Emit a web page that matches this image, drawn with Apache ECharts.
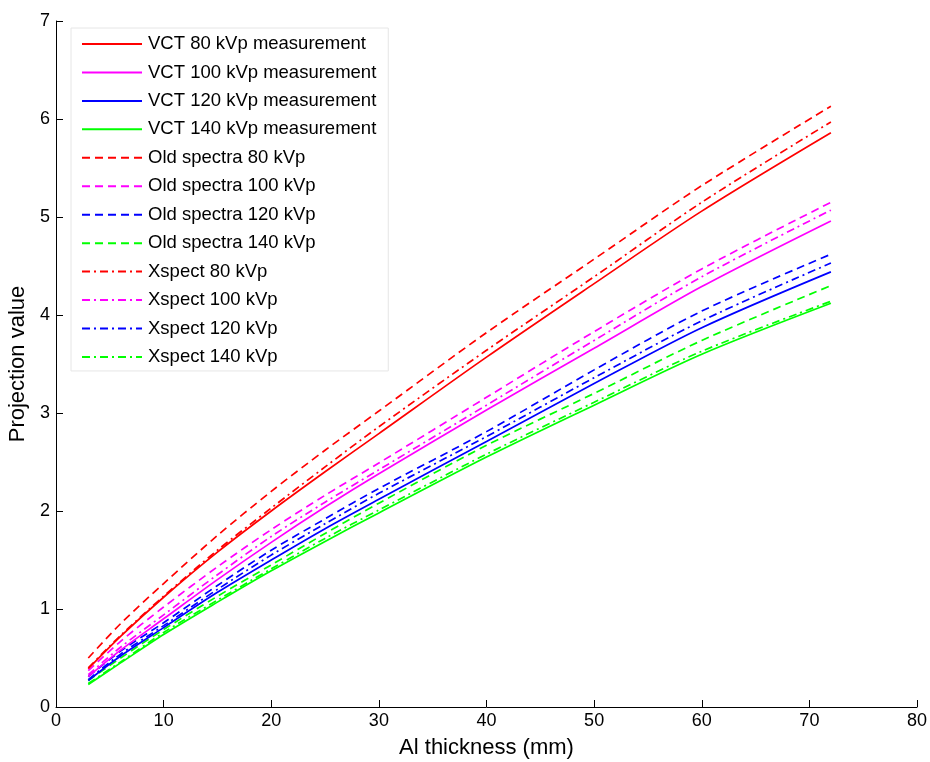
<!DOCTYPE html>
<html>
<head>
<meta charset="utf-8">
<script src="https://cdn.jsdelivr.net/npm/echarts@6/dist/echarts.min.js"></script>
<style>html,body{margin:0;padding:0;background:#fff}#c{width:930px;height:762px}</style>
</head>
<body>
<div id="c"></div>
<script>
// Al thickness (mm) sample positions
const thickness = [3, 6, 10, 15, 20, 25, 30, 40, 50, 60, 72];

// VCT measurements
const vct80  = [0.39, 0.72, 1.12, 1.58, 2.00, 2.40, 2.79, 3.57, 4.32, 5.06, 5.86];
const vct100 = [0.31, 0.58, 0.90, 1.30, 1.68, 2.04, 2.38, 3.03, 3.66, 4.29, 4.96];
const vct120 = [0.27, 0.52, 0.81, 1.17, 1.50, 1.82, 2.12, 2.71, 3.30, 3.87, 4.44];
const vct140 = [0.23, 0.45, 0.74, 1.07, 1.39, 1.69, 1.98, 2.55, 3.08, 3.60, 4.12];

// Old spectra
const old80  = [0.50, 0.85, 1.26, 1.75, 2.20, 2.62, 3.02, 3.82, 4.57, 5.32, 6.13];
const old100 = [0.37, 0.67, 1.02, 1.43, 1.81, 2.16, 2.49, 3.16, 3.83, 4.47, 5.15];
const old120 = [0.31, 0.57, 0.86, 1.24, 1.60, 1.92, 2.23, 2.81, 3.44, 4.04, 4.62];
const old140 = [0.27, 0.50, 0.79, 1.13, 1.45, 1.77, 2.08, 2.67, 3.20, 3.74, 4.30];

// Xspect
const xs80  = [0.40, 0.73, 1.13, 1.60, 2.03, 2.45, 2.86, 3.64, 4.39, 5.15, 5.97];
const xs100 = [0.33, 0.61, 0.94, 1.35, 1.74, 2.09, 2.42, 3.08, 3.74, 4.39, 5.07];
const xs120 = [0.28, 0.54, 0.83, 1.20, 1.55, 1.87, 2.18, 2.76, 3.36, 3.94, 4.53];
const xs140 = [0.24, 0.46, 0.76, 1.09, 1.41, 1.72, 2.01, 2.58, 3.11, 3.63, 4.14];

const names = [
  'VCT 80 kVp measurement','VCT 100 kVp measurement','VCT 120 kVp measurement','VCT 140 kVp measurement',
  'Old spectra 80 kVp','Old spectra 100 kVp','Old spectra 120 kVp','Old spectra 140 kVp',
  'Xspect 80 kVp','Xspect 100 kVp','Xspect 120 kVp','Xspect 140 kVp'
];
const values = [vct80, vct100, vct120, vct140, old80, old100, old120, old140, xs80, xs100, xs120, xs140];
const colors = ['#ff0000', '#ff00ff', '#0000ff', '#00ff00'];
const dashTypes = ['solid', [8, 5], [8, 4, 2, 4]];

const series = values.map((v, i) => ({
  name: names[i],
  type: 'line',
  symbol: 'none',
  showSymbol: false,
  smooth: 0.3,
  data: thickness.map((x, j) => [x, v[j]]),
  lineStyle: { color: colors[i % 4], width: 1.7, type: dashTypes[Math.floor(i / 4)] },
  itemStyle: { color: colors[i % 4] },
  z: 3 + (2 - Math.floor(i / 4))
}));

const font = 'Liberation Sans, Arial, sans-serif';
const chart = echarts.init(document.getElementById('c'), null, { renderer: 'canvas' });
chart.setOption({
  animation: false,
  backgroundColor: '#fff',
  grid: { left: 56, right: 13, top: 21, bottom: 55, containLabel: false, outerBoundsMode: 'none' },
  legend: {
    orient: 'vertical',
    left: 71, top: 28,
    padding: [6, 12, 4, 10],
    backgroundColor: '#fff',
    borderColor: '#e6e6e6', borderWidth: 1,
    itemWidth: 60, itemHeight: 14, itemGap: 8.45,
    itemStyle: { opacity: 0 },
    textStyle: { fontFamily: font, fontSize: 18.5, lineHeight: 20, color: '#000', padding: [0, 0, 0, 1] },
    data: names
  },
  xAxis: {
    type: 'value', min: 0, max: 80, interval: 10,
    name: 'Al thickness (mm)', nameLocation: 'middle', nameGap: 30,
    nameTextStyle: { fontFamily: font, fontSize: 22, color: '#000' },
    axisLine: { show: true, lineStyle: { color: '#000', width: 1 } },
    axisTick: { show: true, inside: true, length: 7, lineStyle: { color: '#000' } },
    axisLabel: { fontFamily: font, fontSize: 18, color: '#000', margin: 5 },
    splitLine: { show: false }
  },
  yAxis: {
    type: 'value', min: 0, max: 7, interval: 1,
    name: 'Projection value', nameLocation: 'middle', nameGap: 26,
    nameTextStyle: { fontFamily: font, fontSize: 22, color: '#000' },
    axisLine: { show: true, lineStyle: { color: '#000', width: 1 } },
    axisTick: { show: true, inside: true, length: 7, lineStyle: { color: '#000' } },
    axisLabel: { fontFamily: font, fontSize: 18, color: '#000', margin: 6 },
    splitLine: { show: false }
  },
  series: series
});
</script>
</body>
</html>
